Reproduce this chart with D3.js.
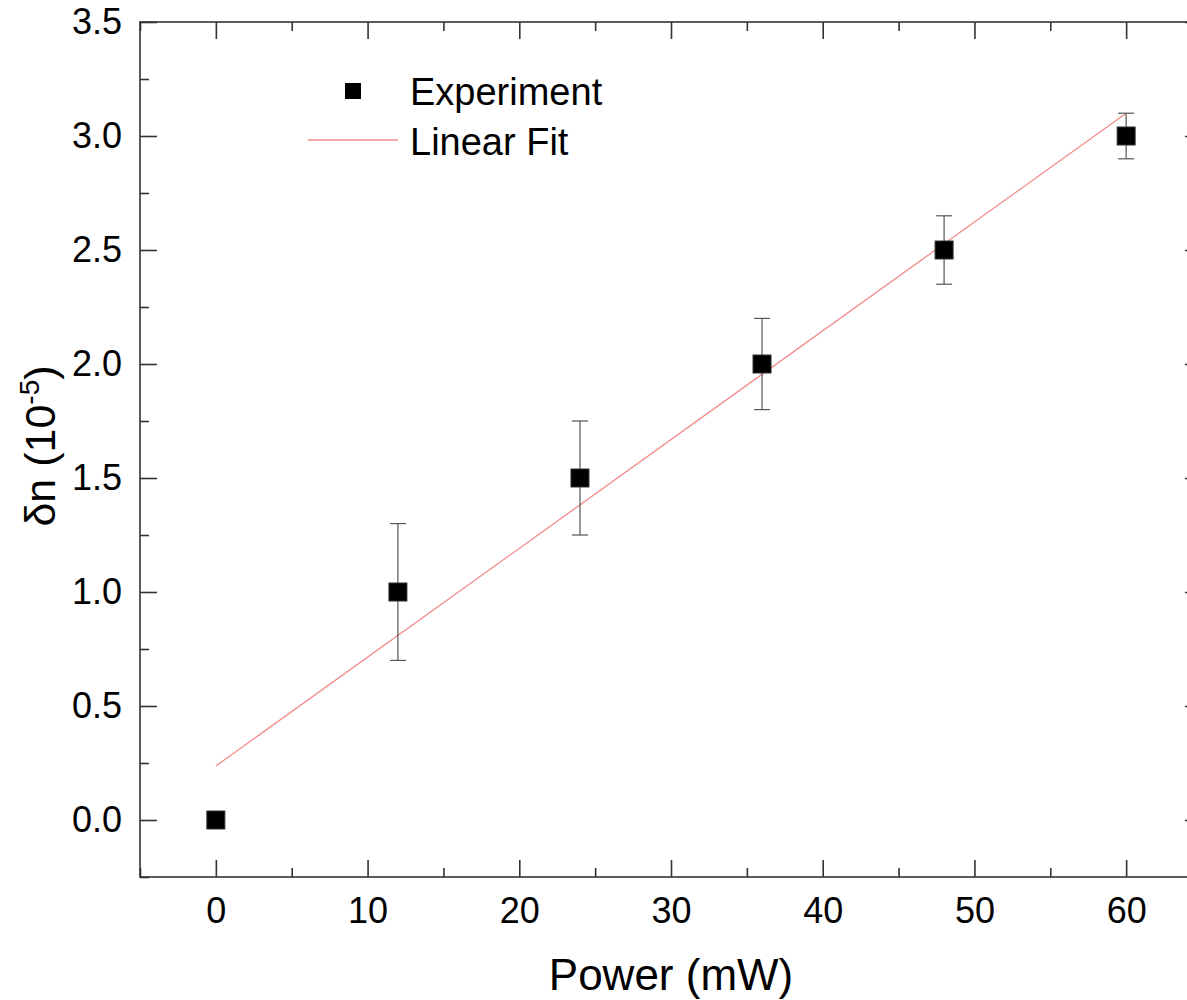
<!DOCTYPE html>
<html><head><meta charset="utf-8">
<script src="https://cdn.jsdelivr.net/npm/d3@7"></script>
<style>body{margin:0;background:#fff}svg{display:block}text{font-family:"Liberation Sans",Arial,sans-serif;fill:#000}</style>
</head><body>
<svg id="c" width="1187" height="1000"></svg>
<script>
const power = [0, 12, 24, 36, 48, 60];
const deltaN = [0, 1.0, 1.5, 2.0, 2.5, 3.0];
const errLow = [0, 0.7, 1.25, 1.8, 2.35, 2.9];
const errHigh = [0, 1.3, 1.75, 2.2, 2.65, 3.1];
const fitX = [0, 60];
const fitY = [0.237, 3.10];
const xTicks = [0, 10, 20, 30, 40, 50, 60];
const yTicks = [0.0, 0.5, 1.0, 1.5, 2.0, 2.5, 3.0, 3.5];

const svg = d3.select("#c");
const L = 140, R = 1202, T = 22, B = 877;
const x = d3.scaleLinear().domain([-5, 65]).range([L, R]);
const y = d3.scaleLinear().domain([-0.25, 3.5]).range([B, T]);
const axisColor = "#333";

// frame
svg.append("rect").attr("x", L).attr("y", T).attr("width", R - L).attr("height", B - T)
  .attr("fill", "none").attr("stroke", axisColor).attr("stroke-width", 1.6);

const xMinor = d3.range(-5, 66, 5).filter(v => v % 10 !== 0);
const yMinor = d3.range(-0.25, 3.51, 0.25).filter(v => Math.abs(v * 2 - Math.round(v * 2)) > 1e-6);

function styleAxis(g) {
  g.select(".domain").remove();
  g.selectAll(".tick line").attr("stroke", axisColor).attr("stroke-width", 1.6);
  g.selectAll(".tick text").style("font-size", "36px").attr("fill", "#000");
}
// bottom
svg.append("g").attr("transform", `translate(0,${B})`)
  .call(d3.axisBottom(x).tickValues(xTicks).tickSizeInner(-17).tickSizeOuter(0).tickPadding(20).tickFormat(d3.format("d")))
  .call(styleAxis);
svg.append("g").attr("transform", `translate(0,${B})`)
  .call(d3.axisBottom(x).tickValues(xMinor).tickSize(-9).tickFormat(""))
  .call(styleAxis);
// top
svg.append("g").attr("transform", `translate(0,${T})`)
  .call(d3.axisTop(x).tickValues(xTicks).tickSize(-17).tickFormat(""))
  .call(styleAxis);
svg.append("g").attr("transform", `translate(0,${T})`)
  .call(d3.axisTop(x).tickValues(xMinor).tickSize(-9).tickFormat(""))
  .call(styleAxis);
// left
svg.append("g").attr("transform", `translate(${L},0)`)
  .call(d3.axisLeft(y).tickValues(yTicks).tickSizeInner(-17).tickSizeOuter(0).tickPadding(18).tickFormat(d3.format(".1f")))
  .call(styleAxis);
svg.append("g").attr("transform", `translate(${L},0)`)
  .call(d3.axisLeft(y).tickValues(yMinor).tickSize(-9).tickFormat(""))
  .call(styleAxis);
// right
svg.append("g").attr("transform", `translate(${R},0)`)
  .call(d3.axisRight(y).tickValues(yTicks).tickSize(-17).tickFormat(""))
  .call(styleAxis);
svg.append("g").attr("transform", `translate(${R},0)`)
  .call(d3.axisRight(y).tickValues(yMinor).tickSize(-9).tickFormat(""))
  .call(styleAxis);

// fit line
svg.append("line")
  .attr("x1", x(fitX[0])).attr("y1", y(fitY[0]))
  .attr("x2", x(fitX[1])).attr("y2", y(fitY[1]))
  .attr("stroke", "#f28b8b").attr("stroke-width", 1.3);

// error bars
const data = power.map((p, i) => ({p, v: deltaN[i], lo: errLow[i], hi: errHigh[i]}));
const eb = svg.append("g").attr("stroke", "#555").attr("stroke-width", 1.2);
data.filter(d => d.hi > d.lo).forEach(d => {
  eb.append("line").attr("x1", x(d.p)).attr("x2", x(d.p)).attr("y1", y(d.lo)).attr("y2", y(d.hi));
  eb.append("line").attr("x1", x(d.p) - 8).attr("x2", x(d.p) + 8).attr("y1", y(d.lo)).attr("y2", y(d.lo));
  eb.append("line").attr("x1", x(d.p) - 8).attr("x2", x(d.p) + 8).attr("y1", y(d.hi)).attr("y2", y(d.hi));
});

// markers
const s = 18;
svg.append("g").selectAll("rect").data(data).join("rect")
  .attr("x", d => x(d.p) - s / 2).attr("y", d => y(d.v) - s / 2)
  .attr("width", s).attr("height", s)
  .attr("fill", "#000").attr("stroke", "#333").attr("stroke-width", 1);

// legend
svg.append("rect").attr("x", 345).attr("y", 83).attr("width", 16).attr("height", 16).attr("fill", "#000");
svg.append("text").attr("x", 410).attr("y", 105).style("font-size", "38px").text("Experiment");
svg.append("line").attr("x1", 308).attr("x2", 398).attr("y1", 140).attr("y2", 140)
  .attr("stroke", "#f28b8b").attr("stroke-width", 1.3);
svg.append("text").attr("x", 410).attr("y", 155).style("font-size", "38px").text("Linear Fit");

// axis titles
svg.append("text").attr("x", 671).attr("y", 990).attr("text-anchor", "middle")
  .style("font-size", "44px").text("Power (mW)");
const yt = svg.append("text").attr("transform", "translate(55,446) rotate(-90)")
  .attr("text-anchor", "middle").style("font-size", "43px");
yt.append("tspan").text("δn (10");
yt.append("tspan").attr("dy", -16).style("font-size", "28px").text("-5");
yt.append("tspan").attr("dy", 16).text(")");
</script>
</body></html>
